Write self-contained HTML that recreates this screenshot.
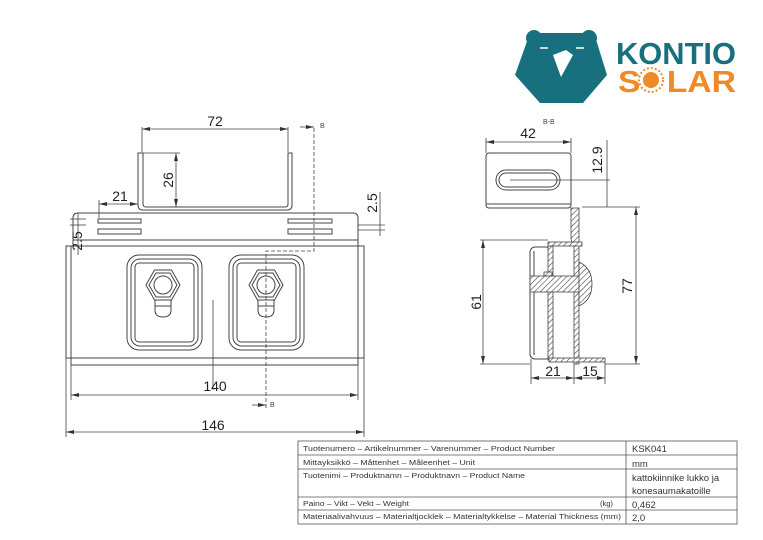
<!DOCTYPE html>
<html><head><meta charset="utf-8"><style>
html,body{margin:0;padding:0;background:#fff;}
svg{display:block;}
text{font-family:"Liberation Sans",sans-serif;}
</style></head><body>
<svg width="763" height="540" viewBox="0 0 763 540" xmlns="http://www.w3.org/2000/svg">
<defs>
<pattern id="h" width="4" height="4" patternUnits="userSpaceOnUse" patternTransform="rotate(45)">
<rect width="4" height="4" fill="#fff"/><line x1="0" y1="0" x2="0" y2="4" stroke="#444" stroke-width="1.2"/></pattern>
<marker id="a" markerWidth="8" markerHeight="6" refX="8" refY="3" orient="auto-start-reverse" markerUnits="userSpaceOnUse"><path d="M0,1 L8,3 L0,5" fill="#333"/></marker>
</defs>
<!-- Logo -->
<g fill="#18707f">
<circle cx="534" cy="38" r="8"/><circle cx="589" cy="38" r="8"/>
<polygon points="530,33 594,33 607,75 583,103 540,103 515,75"/>
</g>
<polygon points="553,55 566,50 573,55 561,77" fill="#fff"/>
<line x1="540" y1="48" x2="548" y2="48" stroke="#fff" stroke-width="1.5"/>
<line x1="576" y1="48" x2="584" y2="48" stroke="#fff" stroke-width="1.5"/>
<text x="616" y="64" font-size="31" font-weight="bold" fill="#18707f" textLength="120" lengthAdjust="spacingAndGlyphs">KONTIO</text>
<text x="618" y="92" font-size="31" font-weight="bold" fill="#f08a24" textLength="118" lengthAdjust="spacingAndGlyphs">S<tspan fill="#fff">O</tspan>LAR</text>
<circle cx="651" cy="80" r="8" fill="#f08a24"/>
<circle cx="651" cy="80" r="12" fill="none" stroke="#f08a24" stroke-width="2" stroke-dasharray="2 2"/>

<g fill="none" stroke="#444" stroke-width="1">
<path d="M138,153 V205 Q138,210 143,210 H287 Q292,210 292,205 V153 H288 V204 Q288,207 285,207 H146 Q143,207 143,204 V153 Z"/>
<path d="M73,246 V218 Q73,213 78,213 H353 Q358,213 358,218 V246"/>
<line x1="73" y1="240" x2="358" y2="240"/>
<rect x="98" y="219" width="43" height="4"/><rect x="98" y="229" width="43" height="5"/>
<rect x="288" y="219" width="44" height="4"/><rect x="288" y="229" width="44" height="5"/>
<rect x="66" y="246" width="298" height="112"/>
<path d="M71,246 V365 H358 V246"/>
<rect x="127" y="255" width="75" height="95" rx="12"/>
<rect x="131" y="259" width="67" height="87" rx="9"/>
<rect x="135" y="263" width="59" height="79" rx="4"/>
<rect x="229" y="255" width="75" height="95" rx="12"/>
<rect x="233" y="259" width="67" height="87" rx="9"/>
<rect x="237" y="263" width="59" height="79" rx="4"/>
<polygon points="146,285 154.5,270 171.5,270 180,285 171.5,300 154.5,300"/>
<polygon points="149,285 156,273 170,273 177,285 170,297 156,297"/>
<circle cx="163" cy="285" r="9"/>
<path d="M155,300 V310 Q155,317 163,317 Q171,317 171,310 V300"/><line x1="155" y1="306" x2="171" y2="306"/>
<polygon points="249,285 257.5,270 274.5,270 283,285 274.5,300 257.5,300"/>
<polygon points="252,285 259,273 273,273 280,285 273,297 259,297"/>
<circle cx="266" cy="285" r="9"/>
<path d="M258,300 V310 Q258,317 266,317 Q274,317 274,310 V300"/><line x1="258" y1="306" x2="274" y2="306"/>
</g>
<g stroke="#444" stroke-width="0.8" fill="none">
<path d="M314,128 V251 H266 V410" stroke-dasharray="4 2"/>
<line x1="300" y1="127" x2="314" y2="127" marker-end="url(#a)"/>
<line x1="252" y1="405" x2="266" y2="405" marker-end="url(#a)"/>
<line x1="142" y1="127" x2="142" y2="152"/><line x1="288" y1="127" x2="288" y2="152"/>
<line x1="142" y1="129" x2="288" y2="129" marker-start="url(#a)" marker-end="url(#a)"/>
<line x1="176" y1="153" x2="176" y2="207" marker-start="url(#a)" marker-end="url(#a)"/>
<line x1="143" y1="153" x2="180" y2="153"/>
<line x1="99" y1="200" x2="99" y2="218"/>
<line x1="99" y1="204" x2="138" y2="204" marker-start="url(#a)" marker-end="url(#a)"/>
<line x1="358" y1="225" x2="385" y2="225"/><line x1="358" y1="230" x2="385" y2="230"/>
<line x1="380" y1="192" x2="380" y2="236"/>
<line x1="70" y1="219" x2="86" y2="219"/><line x1="70" y1="225" x2="86" y2="225"/>
<line x1="78" y1="213" x2="78" y2="255"/>
<line x1="213" y1="300" x2="213" y2="390"/>
<line x1="71" y1="365" x2="71" y2="400"/><line x1="358" y1="365" x2="358" y2="400"/>
<line x1="71" y1="395" x2="358" y2="395" marker-start="url(#a)" marker-end="url(#a)"/>
<line x1="66" y1="358" x2="66" y2="437"/><line x1="364" y1="358" x2="364" y2="437"/>
<line x1="66" y1="432" x2="364" y2="432" marker-start="url(#a)" marker-end="url(#a)"/>
</g>
<g font-size="14" fill="#222">
<text x="215" y="126" text-anchor="middle">72</text>
<text x="173" y="180" text-anchor="middle" transform="rotate(-90 173 180)">26</text>
<text x="120" y="201" text-anchor="middle">21</text>
<text x="377" y="203" text-anchor="middle" transform="rotate(-90 377 203)">2.5</text>
<text x="82" y="241" text-anchor="middle" transform="rotate(-90 82 241)">2.5</text>
<text x="215" y="391" text-anchor="middle">140</text>
<text x="213" y="430" text-anchor="middle">146</text>
</g>
<g font-size="7" fill="#444">
<text x="320" y="128">B</text><text x="270" y="407">B</text><text x="543" y="124">B-B</text>
</g>

<g fill="none" stroke="#444" stroke-width="1">
<rect x="486" y="153" width="85" height="55" rx="3"/>
<line x1="486" y1="204" x2="571" y2="204"/>
<rect x="496" y="170" width="64" height="20" rx="10"/>
<rect x="499" y="173" width="58" height="14" rx="7"/>
<rect x="530" y="247" width="21" height="112" rx="5"/>
<line x1="534" y1="251" x2="534" y2="355"/>
</g>
<g fill="url(#h)" stroke="#444" stroke-width="0.8">
<path d="M571,208 H579 V364 H574 V246 Q571,242 571,238 Z"/>
<rect x="548" y="242" width="34" height="4"/>
<rect x="548" y="246" width="5" height="114"/>
<rect x="549" y="358" width="56" height="4"/>
<rect x="530" y="276" width="50" height="16"/>
<path d="M579,262 Q592,268 592,284 Q592,300 579,306 Z"/>
<rect x="544" y="272" width="8" height="4"/>
</g>
<g stroke="#444" stroke-width="0.8" fill="none">
<line x1="486" y1="138" x2="486" y2="153"/><line x1="571" y1="138" x2="571" y2="153"/>
<line x1="486" y1="142" x2="571" y2="142" marker-start="url(#a)" marker-end="url(#a)"/>
<line x1="510" y1="180" x2="610" y2="180"/>
<line x1="607" y1="140" x2="607" y2="207"/>
<line x1="582" y1="207" x2="640" y2="207"/><line x1="605" y1="364" x2="640" y2="364"/>
<line x1="636" y1="207" x2="636" y2="364" marker-start="url(#a)" marker-end="url(#a)"/>
<line x1="480" y1="240" x2="548" y2="240"/><line x1="480" y1="364" x2="530" y2="364"/>
<line x1="483" y1="240" x2="483" y2="364" marker-start="url(#a)" marker-end="url(#a)"/>
<line x1="531" y1="359" x2="531" y2="384"/><line x1="574" y1="364" x2="574" y2="384"/><line x1="605" y1="362" x2="605" y2="384"/>
<line x1="531" y1="378" x2="574" y2="378" marker-start="url(#a)" marker-end="url(#a)"/>
<line x1="574" y1="378" x2="605" y2="378" marker-start="url(#a)" marker-end="url(#a)"/>
</g>
<g font-size="14" fill="#222">
<text x="528" y="138" text-anchor="middle">42</text>
<text x="602" y="160" text-anchor="middle" transform="rotate(-90 602 160)">12.9</text>
<text x="632" y="286" text-anchor="middle" transform="rotate(-90 632 286)">77</text>
<text x="481" y="302" text-anchor="middle" transform="rotate(-90 481 302)">61</text>
<text x="553" y="376" text-anchor="middle">21</text>
<text x="590" y="376" text-anchor="middle">15</text>
</g>

<g fill="none" stroke="#555" stroke-width="0.8">
<rect x="298" y="441" width="439" height="83"/>
<line x1="626" y1="441" x2="626" y2="524"/>
<line x1="298" y1="455" x2="737" y2="455"/>
<line x1="298" y1="469" x2="737" y2="469"/>
<line x1="298" y1="497" x2="737" y2="497"/>
<line x1="298" y1="510" x2="737" y2="510"/>
</g>
<g font-size="7.5" fill="#333">
<text x="303" y="451" textLength="252" lengthAdjust="spacingAndGlyphs">Tuotenumero – Artikelnummer – Varenummer – Product Number</text>
<text x="303" y="465" textLength="172" lengthAdjust="spacingAndGlyphs">Mittayksikkö – Måttenhet – Måleenhet – Unit</text>
<text x="303" y="478" textLength="222" lengthAdjust="spacingAndGlyphs">Tuotenimi – Produktnamn – Produktnavn – Product Name</text>
<text x="303" y="506" textLength="106" lengthAdjust="spacingAndGlyphs">Paino – Vikt – Vekt – Weight</text>
<text x="600" y="506">(kg)</text>
<text x="303" y="519" textLength="318" lengthAdjust="spacingAndGlyphs">Materiaalivahvuus – Materialtjocklek – Materialtykkelse – Material Thickness (mm)</text>
</g>
<g font-size="9.5" fill="#333">
<text x="632" y="452">KSK041</text>
<text x="632" y="467">mm</text>
<text x="632" y="481">kattokiinnike lukko ja</text>
<text x="632" y="494">konesaumakatoille</text>
<text x="632" y="508">0,462</text>
<text x="632" y="521">2,0</text>
</g>
</svg>
</body></html>
